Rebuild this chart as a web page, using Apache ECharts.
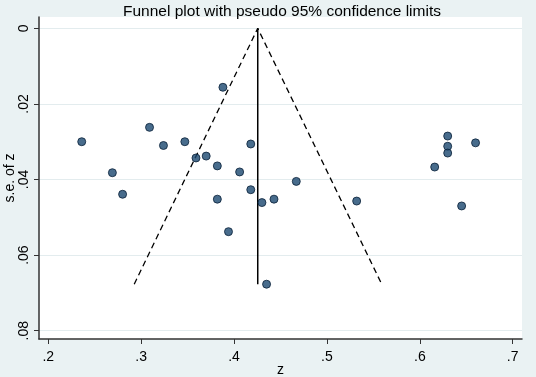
<!DOCTYPE html>
<html>
<head>
<meta charset="utf-8">
<script src="https://cdn.jsdelivr.net/npm/echarts@6/dist/echarts.min.js"></script>
<style>
html, body { margin: 0; padding: 0; background: #eaf2f3; }
#chart { width: 536px; height: 377px; }
</style>
</head>
<body>
<div id="chart"></div>
<script>
// study estimates: z and its standard error
var zValues = [0.388, 0.309, 0.236, 0.269, 0.280, 0.324, 0.347, 0.359, 0.370, 0.382,
	0.418, 0.406, 0.418, 0.382, 0.430, 0.443, 0.394, 0.467, 0.532, 0.630,
	0.630, 0.630, 0.660, 0.616, 0.645, 0.435];
var seValues = [0.0156, 0.0262, 0.0300, 0.0382, 0.0439, 0.0310, 0.0300, 0.0343, 0.0338, 0.0364,
	0.0306, 0.0380, 0.0427, 0.0452, 0.0461, 0.0452, 0.0538, 0.0405, 0.0457, 0.0285,
	0.0312, 0.0330, 0.0303, 0.0367, 0.0470, 0.0677];

// pooled estimate and pseudo 95% limits at the largest s.e.
var pooledZ = 0.4255;
var maxSe = 0.0677;
var lowerLimit = 0.2925;
var upperLimit = 0.559;

var xTicks = [0.2, 0.3, 0.4, 0.5, 0.6, 0.7];
var yTicks = [0, 0.02, 0.04, 0.06, 0.08];

function stataLabel(v)
{
	if (Math.abs(v) < 1e-9) return '0';
	return String(+v.toFixed(2)).replace(/^0/, '');
}

var points = zValues.map(function(z, i) { return [z, seValues[i]]; });

var chart = echarts.init(document.getElementById('chart'));

var options =
{
	backgroundColor: '#eaf2f3',
	animation: false,
	title: {
		text: 'Funnel plot with pseudo 95% confidence limits',
		left: 277,
		textAlign: 'center',
		top: -1,
		textStyle: { fontFamily: 'Liberation Sans', fontSize: 15.5, fontWeight: 'normal', color: '#000' }
	},
	grid: {
		left: 39, right: 14, top: 17, bottom: 38,
		outerBoundsMode: 'none',
		containLabel: false,
		show: true, backgroundColor: '#fff', borderWidth: 0
	},
	xAxis: {
		type: 'value',
		min: 0.19,
		max: 0.71,
		name: 'z',
		nameLocation: 'middle',
		nameGap: 24,
		nameMoveOverlap: false,
		nameTextStyle: { fontFamily: 'Liberation Sans', fontSize: 14, color: '#000' },
		axisLine: { onZero: false, lineStyle: { color: '#333', width: 1.5 } },
		axisTick: { show: true, length: 5, customValues: xTicks, lineStyle: { color: '#333' } },
		axisLabel: {
			customValues: xTicks, margin: 11,
			fontFamily: 'Liberation Sans', fontSize: 14, color: '#000',
			formatter: stataLabel
		},
		splitLine: { show: false }
	},
	yAxis: {
		type: 'value',
		inverse: true,
		min: -0.003,
		max: 0.0822,
		name: 's.e. of z',
		nameLocation: 'middle',
		nameGap: 22,
		nameRotate: 90,
		nameMoveOverlap: false,
		nameTextStyle: { fontFamily: 'Liberation Sans', fontSize: 14, color: '#000' },
		axisLine: { show: true, onZero: false, lineStyle: { color: '#333', width: 1.5 } },
		axisTick: { show: true, length: 5, customValues: yTicks, lineStyle: { color: '#333' } },
		axisLabel: {
			customValues: yTicks, margin: 8, rotate: 90,
			fontFamily: 'Liberation Sans', fontSize: 14, color: '#000',
			formatter: stataLabel
		},
		splitLine: { show: true, lineStyle: { color: '#e3ecee', width: 1 } }
	},
	series: [
		{
			type: 'scatter',
			data: points,
			symbolSize: 8,
			itemStyle: { color: '#1a476f', borderColor: '#0a2138', borderWidth: 1 },
			z: 5
		},
		{
			type: 'line',
			data: [[lowerLimit, maxSe], [pooledZ, 0], [upperLimit, maxSe]],
			symbol: 'none',
			lineStyle: { color: '#000', width: 1.3, type: [6, 4] },
			z: 3
		},
		{
			type: 'line',
			data: [[pooledZ, 0], [pooledZ, maxSe]],
			symbol: 'none',
			lineStyle: { color: '#000', width: 1.5 },
			z: 3
		}
	]
};

chart.setOption(options);
</script>
</body>
</html>
